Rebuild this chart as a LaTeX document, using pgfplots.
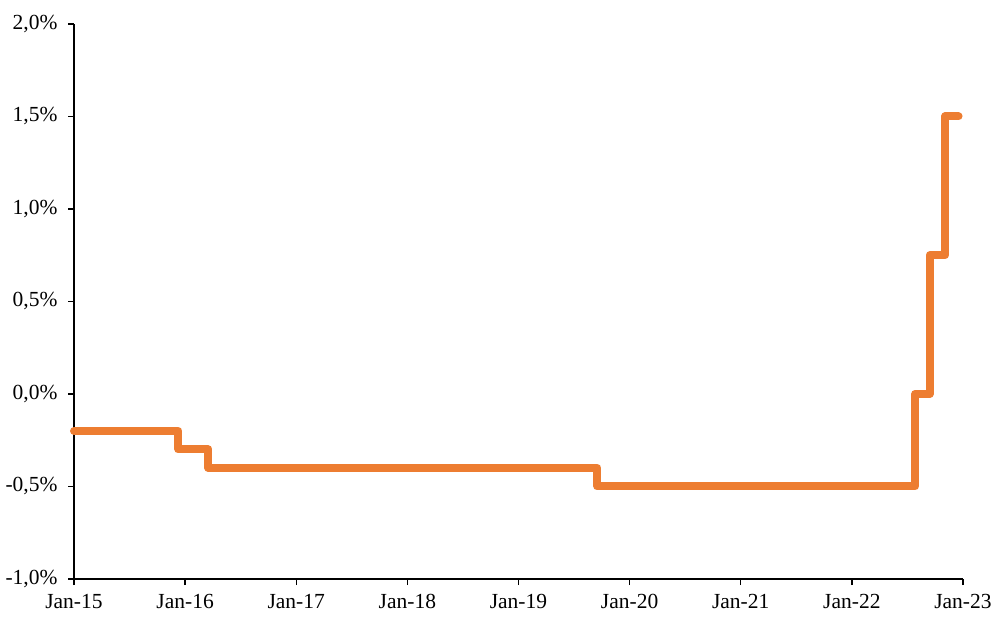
\documentclass[border=0pt]{standalone}
\usepackage{pgfplots}
\pgfplotsset{compat=1.18}
\usepackage{fontspec}
\setmainfont{Liberation Serif}
\definecolor{rateorange}{HTML}{ED7D31}

\begin{document}
\begin{tikzpicture}
	\begin{axis}[
		name=ax,
		scale only axis,
		width=889bp, height=555bp,
		xmin=2015, xmax=2023,
		ymin=-1, ymax=2,
		axis x line=bottom,
		axis y line=left,
		axis line style={line width=1.6bp, -},
		xtick={2015,2016,...,2023},
		xticklabels={Jan-15,Jan-16,Jan-17,Jan-18,Jan-19,Jan-20,Jan-21,Jan-22,Jan-23},
		ytick={-1,-0.5,0,0.5,1,1.5,2},
		tick align=outside,
		major tick length=6bp,
		tick style={line width=1.4bp, black},
		tick label style={font=\fontsize{21.5bp}{24bp}\selectfont},
		xticklabel style={yshift=-6bp},
		yticklabel style={xshift=-7bp},
		/pgf/number format/assume math mode=true,
		yticklabel={\pgfmathprintnumber[fixed,fixed zerofill,precision=1,use comma]{\tick}\%},
		clip=false,
		]
		\addplot[const plot, color=rateorange, line width=8bp, line cap=round, line join=round]
		coordinates {
			(2015.00,-0.2)(2015.94,-0.3)(2016.21,-0.4)(2019.71,-0.5)
			(2022.57,0.0)(2022.70,0.75)(2022.84,1.5)(2022.96,1.5)
		};
	\end{axis}
	\path (-74bp,-49bp) rectangle (922bp,579bp);
\end{tikzpicture}
\end{document}
